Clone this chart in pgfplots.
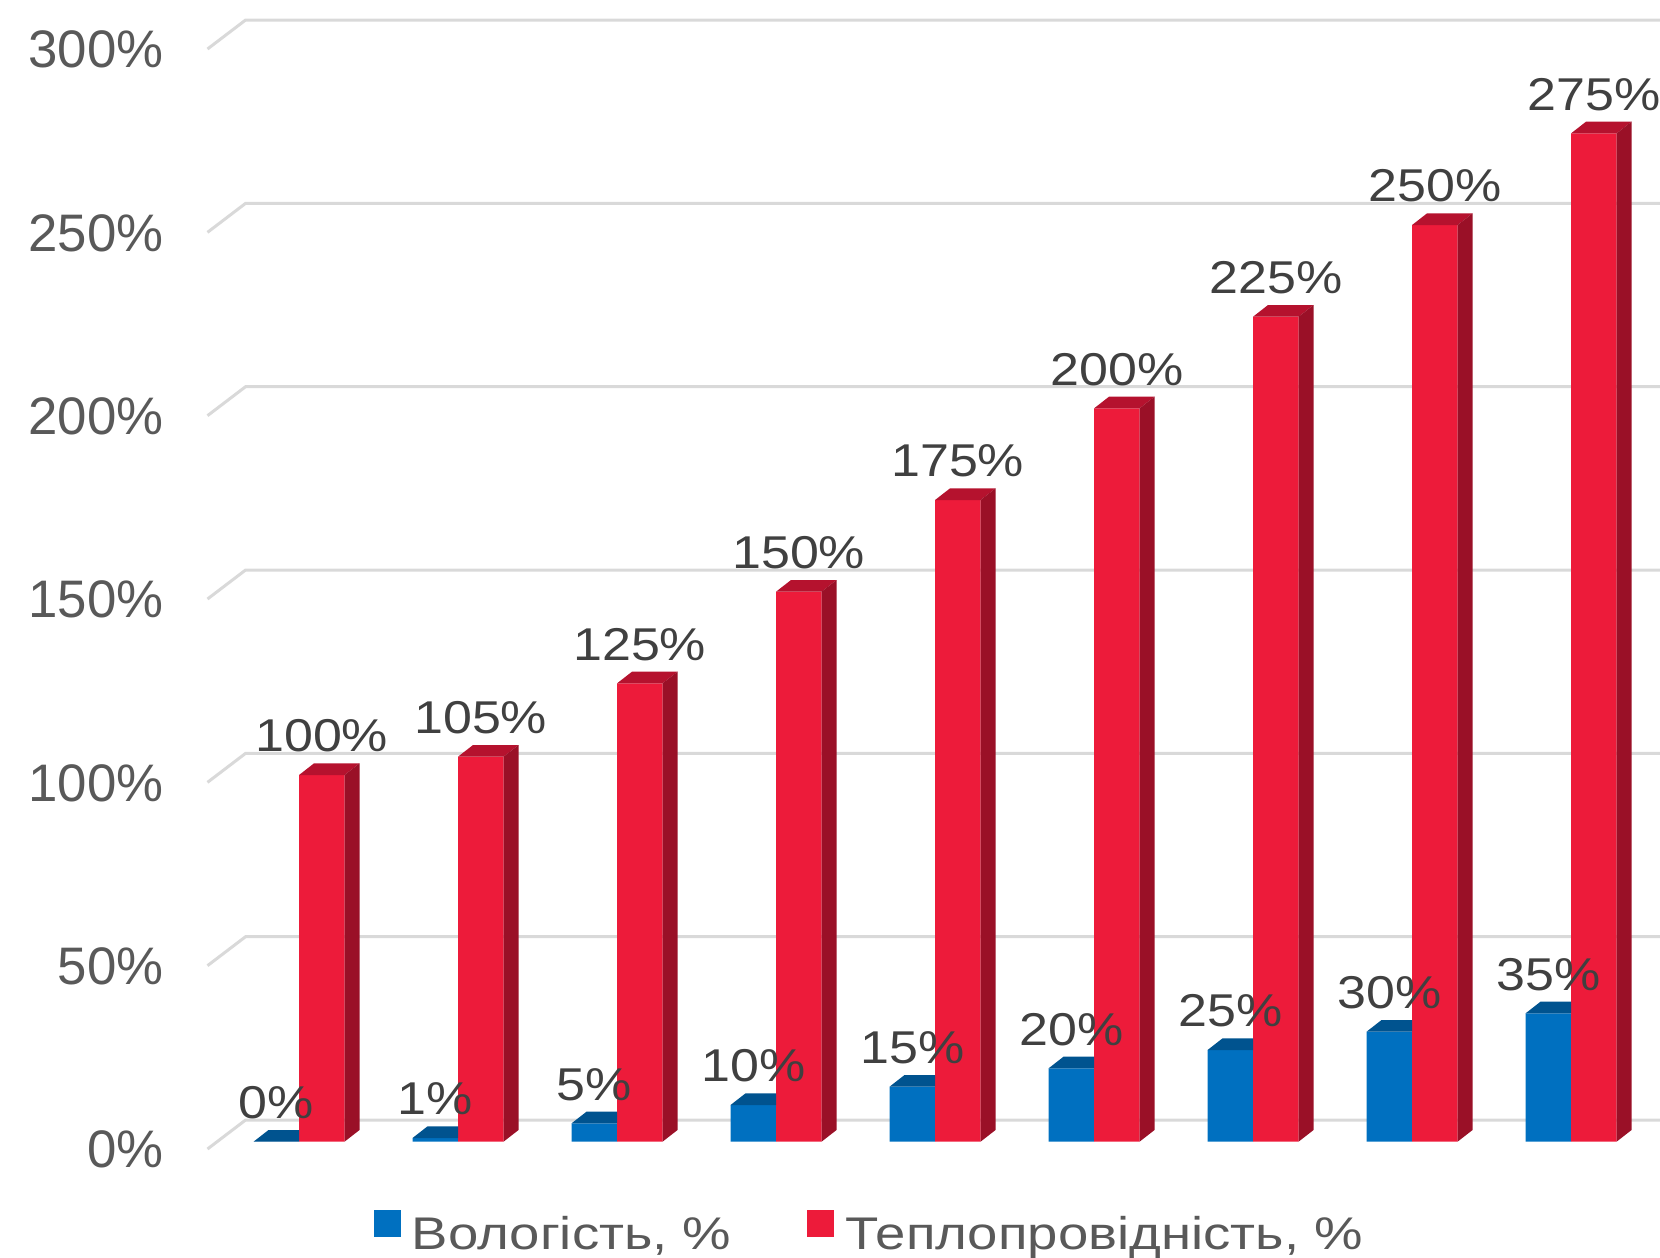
\documentclass[border=0pt]{standalone}
\usepackage{pgfplots}
\usepackage{pgfplotstable}
\pgfplotsset{compat=1.18}
\usepackage{fontspec}
\setmainfont{Liberation Sans}
\newfontfamily\labfont[FakeStretch=1.13]{Liberation Sans}
\newfontfamily\legfont[FakeStretch=1.19]{Liberation Sans}
\definecolor{bluefront}{HTML}{0070C0}
\definecolor{bluetop}{HTML}{00538F}
\definecolor{redfront}{HTML}{ED1B3A}
\definecolor{redtop}{HTML}{B5122E}
\definecolor{redside}{HTML}{9A1027}
\definecolor{gridc}{HTML}{D9D9D9}
\definecolor{ticktext}{HTML}{595959}
\definecolor{labtext}{HTML}{404040}

\pgfdeclareplotmark{bluefaces}{%
  \pgfpathmoveto{\pgfqpoint{-11.375pt}{0pt}}%
  \pgfpathlineto{\pgfqpoint{-7.625pt}{2.925pt}}%
  \pgfpathlineto{\pgfqpoint{0pt}{2.925pt}}%
  \pgfpathlineto{\pgfqpoint{0pt}{0pt}}%
  \pgfpathclose
  \pgfsetfillcolor{bluetop}\pgfusepath{fill}%
}
\pgfdeclareplotmark{redfaces}{%
  \pgfmathsetmacro\hh{\rawy*0.916667}%
  \pgfpathmoveto{\pgfqpoint{0pt}{0pt}}%
  \pgfpathlineto{\pgfqpoint{3.75pt}{2.925pt}}%
  \pgfpathlineto{\pgfqpoint{15.125pt}{2.925pt}}%
  \pgfpathlineto{\pgfqpoint{11.375pt}{0pt}}%
  \pgfpathclose
  \pgfsetfillcolor{redtop}\pgfusepath{fill}%
  \pgfpathmoveto{\pgfqpoint{11.375pt}{0pt}}%
  \pgfpathlineto{\pgfqpoint{15.125pt}{2.925pt}}%
  \pgfpathlineto{\pgfpoint{15.125pt}{2.925pt-\hh pt}}%
  \pgfpathlineto{\pgfpoint{11.375pt}{-\hh pt}}%
  \pgfpathclose
  \pgfsetfillcolor{redside}\pgfusepath{fill}%
}

\pgfplotstableread{
x blue red
0 0 100
1 1 105
2 5 125
3 10 150
4 15 175
5 20 200
6 25 225
7 30 250
8 35 275
}\datatable

\begin{document}
\begin{tikzpicture}
\useasboundingbox (-51.875pt,-28.825pt) rectangle (363.125pt,285.425pt);
\begin{axis}[
  at={(0,0)}, anchor=south west,
  scale only axis, width=363.125pt, height=275pt,
  xmin=-0.5755, xmax=8.5597, ymin=0, ymax=300,
  clip=false,
  axis line style={draw=none},
  xtick=\empty,
  ytick={0,50,100,150,200,250,300},
  major tick length=0pt,
  ytick style={draw=none},
  /pgf/number format/assume math mode=true,
  yticklabel={\pgfmathprintnumber{\tick}\%},
  yticklabel style={anchor=east, inner sep=0pt, xshift=-10.8pt, yshift=-2pt,
    font=\fontsize{13.2}{13.2}\selectfont, text=ticktext},
  legend columns=2,
  legend style={at={(0.1146,-0.083)}, anchor=west, draw=none, fill=none,
    inner sep=0pt, outer sep=0pt,
    font=\legfont\fontsize{11.45}{11.45}\selectfont, text=ticktext,
    nodes={inner sep=0pt},
    /tikz/every odd column/.append style={column sep=2.8pt},
    /tikz/every even column/.append style={column sep=19pt}},
  legend cell align=left,
]
\pgfplotsinvokeforeach{0,50,100,150,200,250,300}{
  \draw[gridc, line width=0.75pt]
    ([yshift=-1.825pt]axis cs:-0.5755,#1) --
    ([xshift=9.525pt,yshift=5.425pt]axis cs:-0.5755,#1) --
    ([yshift=5.425pt]axis cs:8.5597,#1);
}
\addplot[ybar, bar width=11.375pt, bar shift=-5.6875pt, fill=bluefront, draw=none,
  legend image code/.code={\fill[bluefront] (0pt,-0.33pt) rectangle (6.7pt,6.4pt);}]
  table[x=x, y=blue]{\datatable};
\addlegendentry{Вологість, \%}
\addplot[only marks, mark=bluefaces, forget plot] table[x=x, y=blue]{\datatable};
\addplot[ybar, bar width=11.375pt, bar shift=5.6875pt, fill=redfront, draw=none,
  legend image code/.code={\fill[redfront] (0pt,-0.33pt) rectangle (6.7pt,6.4pt);}]
  table[x=x, y=red]{\datatable};
\addlegendentry{Теплопровідність, \%}
\addplot[only marks, mark=redfaces, visualization depends on={rawy \as \rawy}, forget plot]
  table[x=x, y=red]{\datatable};
% data labels
\addplot[draw=none, mark=none, forget plot,
  nodes near coords={\pgfmathprintnumber{\pgfplotspointmeta}\%},
  every node near coord/.append style={anchor=south, inner sep=0pt, xshift=-5.6875pt, yshift=5.5pt,
    font=\labfont\fontsize{11.5}{11.5}\selectfont, text=labtext}]
  table[x=x, y=blue]{\datatable};
\addplot[draw=none, mark=none, forget plot,
  nodes near coords={\pgfmathprintnumber{\pgfplotspointmeta}\%},
  every node near coord/.append style={anchor=south, inner sep=0pt, xshift=5.6875pt, yshift=5.5pt,
    font=\labfont\fontsize{11.5}{11.5}\selectfont, text=labtext}]
  table[x=x, y=red]{\datatable};
\end{axis}
\end{tikzpicture}
\end{document}
